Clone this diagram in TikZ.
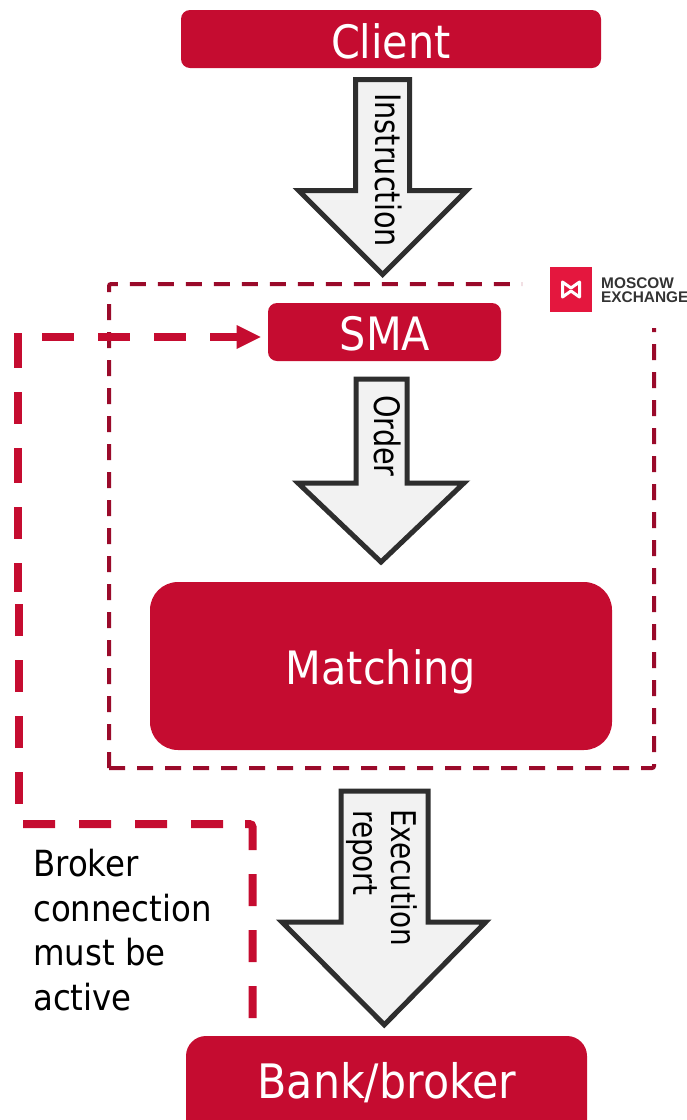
\documentclass[tikz,border=0pt]{standalone}
\usepackage{fontspec}
\setmainfont{DejaVu Sans}[FakeStretch=0.9]
\newfontfamily\rotfont{DejaVu Sans}[FakeStretch=0.82]
\newfontfamily\logofont{Liberation Sans}
\definecolor{mred}{HTML}{C50C30}
\definecolor{mdark}{HTML}{9A0A2A}
\definecolor{logored}{HTML}{E4173E}
\definecolor{agray}{HTML}{F2F2F2}
\definecolor{astroke}{HTML}{2E2E2E}
\usetikzlibrary{arrows.meta}
\tikzset{
  x=1pt,y=-1pt,
  redbox/.style={fill=mred,draw=none},
  blockarrow/.style={draw=astroke,fill=agray,line width=5pt,miter limit=10},
  boxlabel/.style={text=white,inner sep=0pt,anchor=center,font=\fontsize{46}{50}\selectfont},
  arrowlabel/.style={text=black,inner sep=0pt,rotate=-90,anchor=base west,font=\rotfont\fontsize{35}{40}\selectfont},
  frameline/.style={draw=mdark,line width=4pt,dash pattern=on 16pt off 12pt,rounded corners=2pt},
  brokerline/.style={draw=mred,line width=8pt,dash pattern=on 32pt off 24pt},
  logotext/.style={inner sep=0pt,anchor=base west,text=black!80,font=\logofont\bfseries\fontsize{15.4}{16}\selectfont},
}
\begin{document}
\begin{tikzpicture}
\useasboundingbox (0,0) rectangle (687,1120);
\clip (0,0) rectangle (687,1120);
% frame
\coordinate (fbl) at (109,768);
\coordinate (ftl) at (109,284);
\coordinate (ftr) at (522,284);
\coordinate (fbr) at (654,768);
\coordinate (fend) at (654,328);
\draw[frameline] (fbl) -- (ftl) -- (ftr);
\draw[frameline] (fbl) -- (fbr) -- (fend);
% boxes
\fill[redbox,rounded corners=9pt] (181,10) rectangle (601,68);
\node[boxlabel] (client) at (391,41) {Client};
\fill[redbox,rounded corners=9pt] (268,303) rectangle (501,361);
\node[boxlabel] (sma) at (385,334) {SMA};
\fill[redbox,rounded corners=28pt] (150,582) rectangle (612,750);
\node[boxlabel] (matching) at (381,672) {Matching};
\fill[redbox,rounded corners=20pt] (186,1036) rectangle (587,1160);
\node[boxlabel,font=\fontsize{47.5}{50}\selectfont] (bank) at (387,1083) {Bank/broker};
% block arrows
\draw[blockarrow] (355.5,79.5) -- (409.5,79.5) -- (409.5,190.5) -- (466.7,190.5) -- (382.7,274.5) -- (298.7,190.5) -- (355.5,190.5) -- cycle;
\node[arrowlabel] (instr) at (375,93) {Instruction};
\draw[blockarrow] (356,379) -- (407,379) -- (407,483) -- (464,483) -- (381,562) -- (298,483) -- (356,483) -- cycle;
\node[arrowlabel] (order) at (374,395) {Order};
\draw[blockarrow] (341,791) -- (428,791) -- (428,922) -- (485.7,922) -- (384.3,1024.8) -- (282,922) -- (341,922) -- cycle;
\node[arrowlabel,font=\rotfont\fontsize{34}{40}\selectfont] (exec1) at (391.7,809) {Execution};
\node[arrowlabel,font=\rotfont\fontsize{34}{40}\selectfont] (exec2) at (353,810) {report};
% broker connection
\coordinate (b0) at (252.5,1018);
\coordinate (b1) at (252.5,824);
\coordinate (b2) at (18.7,824);
\coordinate (b2u) at (18.7,804);
\coordinate (b3) at (18.7,604);
\coordinate (c0) at (17.5,333);
\coordinate (c1) at (17.5,592);
\coordinate (a0) at (18,337);
\coordinate (a1) at (237,337);
\coordinate (a2) at (260.7,337);
\draw[brokerline,rounded corners=3pt,dash pattern=on 32pt off 24pt on 32pt off 24pt on 32pt off 24pt on 32pt off 22pt on 32pt off 24pt on 32pt off 24pt on 32pt off 24pt on 32pt off 100pt] (b0) -- (b1) -- (b2);
\draw[brokerline] (b2u) -- (b3);
\draw[brokerline,dash pattern=on 35pt off 24pt on 32pt off 24pt] (c0) -- (c1);
\draw[brokerline,dash phase=32pt] (a0) -- (a1);
\fill[mred] (a2) -- (236.7,325) -- (236.7,349) -- cycle;
\node[inner sep=0pt,anchor=north west,align=left,text=black,font=\fontsize{36}{44.7}\selectfont] (note) at (33,849) {Broker\\connection\\must be\\active};
% logo
\fill[logored] (550,267) rectangle (592,312);
\draw[white,line width=3pt,line join=round] (562.5,282) -- (571,288) -- (579.5,282) -- (579.5,297) -- (571,291) -- (562.5,297) -- cycle;
\node[logotext] (logo1) at (601,288) {MOSCOW};
\node[logotext] (logo2) at (601,302.5) {EXCHANGE};
\end{tikzpicture}
\end{document}
